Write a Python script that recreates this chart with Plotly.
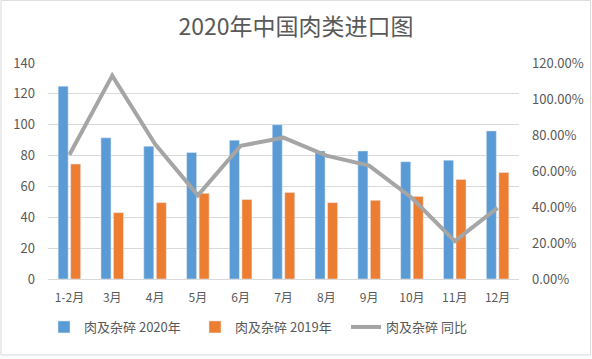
import plotly.graph_objects as go

categories = ["1-2月", "3月", "4月", "5月", "6月", "7月", "8月", "9月", "10月", "11月", "12月"]
meat_2020 = [125, 91.5, 86, 82, 90, 100, 83, 83, 76, 77, 96]
meat_2019 = [74.5, 43, 49.5, 55.5, 51.5, 56, 49.5, 51, 53.5, 64.5, 69]
yoy = [0.69, 1.13, 0.75, 0.465, 0.74, 0.785, 0.685, 0.63, 0.45, 0.21, 0.395]

font_family = "Noto Sans CJK SC, Noto Sans, sans-serif"
tick_color = "#595959"

fig = go.Figure()
fig.add_trace(go.Bar(x=categories, y=meat_2020, name="肉及杂碎 2020年",
                     marker_color="#5b9bd5", yaxis="y"))
fig.add_trace(go.Bar(x=categories, y=meat_2019, name="肉及杂碎 2019年",
                     marker_color="#ed7d31", yaxis="y"))
fig.add_trace(go.Scatter(x=categories, y=yoy, name="肉及杂碎 同比", mode="lines",
                         line=dict(color="#a5a5a5", width=4), yaxis="y2"))

fig.update_layout(
    width=592, height=359,
    margin=dict(l=48, r=73, t=63, b=80, autoexpand=False),
    paper_bgcolor="white", plot_bgcolor="white",
    font=dict(family=font_family, color=tick_color, size=13),
    title=dict(text="2020年中国肉类进口图", x=0.5, xanchor="center",
               yref="container", y=1 - 27 / 359, yanchor="middle",
               font=dict(size=23, color="#595959", family=font_family)),
    barmode="group", bargap=0.416, bargroupgap=0.2,
    showlegend=True,
    legend=dict(orientation="h", xref="container", x=44 / 592, xanchor="left",
                yref="container", y=32 / 359, yanchor="middle",
                font=dict(size=13, color=tick_color),
                entrywidth=106, entrywidthmode="pixels",
                traceorder="normal"),
    xaxis=dict(type="category", showgrid=False, showline=True, linecolor="#d9d9d9",
               ticks="", tickfont=dict(size=12, color=tick_color),
               ticklabelstandoff=8),
    yaxis=dict(range=[0, 140], dtick=20, showgrid=True, gridcolor="#d9d9d9",
               zeroline=False, ticks="", tickfont=dict(size=13, color=tick_color),
               ticklabelstandoff=12),
    yaxis2=dict(range=[0, 1.2], dtick=0.2, overlaying="y", side="right",
                tickformat=".2%", showgrid=False, zeroline=False, ticks="",
                tickfont=dict(size=13, color=tick_color), ticklabelstandoff=12),
    shapes=[dict(type="rect", xref="paper", yref="paper", x0=-0.0998, x1=1.152,
                 y0=-0.352, y1=1.29, line=dict(color="#d9d9d9", width=1))],
)

fig.write_html("out.html", config={"displayModeBar": False},
               post_script="document.body.style.margin='0';")
